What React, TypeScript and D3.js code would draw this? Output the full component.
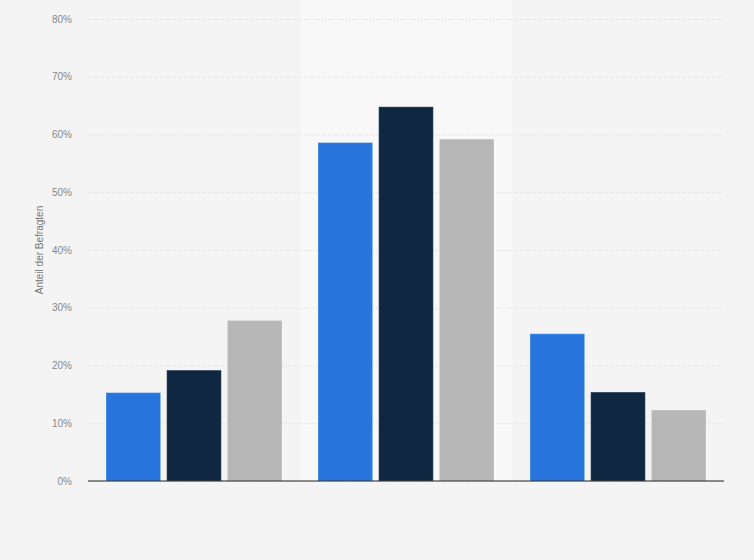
import { useEffect, useRef } from "react"
import * as d3 from "d3"

const groups = ["Gruppe 1", "Gruppe 2", "Gruppe 3"]
const series = ["Serie A", "Serie B", "Serie C"]
const colors = ["#2876dd", "#0f2740", "#b7b7b7"]
const valuesA = [15.3, 58.6, 25.5]
const valuesB = [19.2, 64.8, 15.4]
const valuesC = [27.8, 59.2, 12.3]
const yTicks = [0, 10, 20, 30, 40, 50, 60, 70, 80]

export default function App() {
  const ref = useRef<SVGSVGElement>(null)
  useEffect(() => {
    if (!ref.current) return
    const W = 754, H = 560
    const m = { top: 19, right: 30, bottom: 79, left: 88 }
    const font = "Liberation Sans, Arial, sans-serif"
    const svg = d3.select(ref.current)
    svg.selectAll("*").remove()
    svg.append("rect").attr("width", W).attr("height", H).attr("fill", "#f4f4f4")

    const x0 = d3.scaleBand().domain(groups).range([m.left, W - m.right])
    const x1 = d3.scaleBand().domain(series).range([18, x0.bandwidth() - 18]).paddingInner(0.1)
    const y = d3.scaleLinear().domain([0, 80]).range([H - m.bottom, m.top])

    // highlighted middle band
    svg.append("rect").attr("x", x0(groups[1])!).attr("y", 0)
      .attr("width", x0.bandwidth()).attr("height", H - m.bottom + 1).attr("fill", "#f8f8f8")

    svg.append("g").attr("transform", `translate(${m.left},0)`)
      .call(d3.axisLeft(y).tickValues(yTicks).tickSize(-(W - m.left - m.right)).tickFormat(d => `${d}%`))
      .call(g => {
        g.select(".domain").remove()
        g.selectAll("line").style("stroke", "#d6d6d6").style("stroke-dasharray", "1,2")
        g.selectAll("text").attr("x", -16).style("fill", "#888").style("font-size", "10px")
          .style("font-family", font)
      })

    const table = [valuesA, valuesB, valuesC]
    groups.forEach((gName, gi) => {
      const g = svg.append("g").attr("transform", `translate(${x0(gName)},0)`)
      series.forEach((s, si) => {
        const v = table[si][gi]
        g.append("rect").attr("x", x1(s)!).attr("y", y(v))
          .attr("width", x1.bandwidth()).attr("height", y(0) - y(v))
          .attr("fill", colors[si]).attr("stroke", "rgba(255,255,255,0.25)").attr("stroke-width", 1)
      })
    })

    svg.append("line").attr("x1", m.left).attr("x2", W - m.right)
      .attr("y1", y(0)).attr("y2", y(0)).attr("stroke", "#222").attr("stroke-width", 1)

    svg.append("text").attr("transform", `translate(43,${(m.top + H - m.bottom) / 2}) rotate(-90)`)
      .attr("text-anchor", "middle").style("fill", "#777").style("font-size", "10px")
      .style("font-family", font).text("Anteil der Befragten")
  }, [])
  return <svg ref={ref} width={754} height={560} style={{ display: "block", position: "absolute", left: 0, top: 0 }} />
}
